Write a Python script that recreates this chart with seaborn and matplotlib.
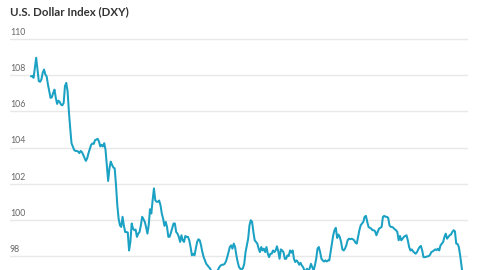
import matplotlib
matplotlib.use("Agg")
import matplotlib.pyplot as plt
import matplotlib.transforms as mtransforms
import seaborn as sns
import pandas as pd
import numpy as np

title = "U.S. Dollar Index (DXY)"
y_ticks = [98, 100, 102, 104, 106, 108, 110]

# Daily closing values (left to right)
seg_jan_mar = [107.93, 107.96, 107.85, 108.41, 108.96, 108.31, 107.67, 107.63, 107.76, 108.13,
               108.31, 108.04, 107.93, 107.48, 107.11, 106.74, 106.78, 107.02, 107.20, 106.74,
               106.41, 106.59, 106.52, 106.37, 106.33, 106.46, 107.39, 107.57, 107.11, 106.00,
               105.07, 104.24, 104.06, 103.87, 103.81, 103.81, 103.78, 103.69, 103.81, 103.74,
               103.59, 103.41, 103.26, 103.41, 103.69, 103.93, 104.15, 104.22, 104.20, 104.41,
               104.44]
seg_mar_may = [104.48, 104.33, 104.06, 104.15, 104.06, 104.24, 103.87, 103.04, 102.15, 102.85,
               103.22, 103.04, 102.89, 102.85, 101.93, 100.81, 100.07, 99.70, 99.61, 100.17,
               99.70, 99.33, 99.33, 99.30, 98.31, 98.78, 99.80, 99.52, 99.43, 99.46,
               99.06, 99.24, 99.33, 99.70, 100.17, 100.04, 99.89, 99.61, 99.24, 99.70,
               100.59, 100.35, 101.09, 101.74, 101.09, 101.00, 101.00, 101.07, 100.81, 100.35,
               100.07, 99.67, 99.89, 99.61, 99.06, 99.07, 99.30, 99.56, 99.80]
seg_may_aug = [99.80, 99.33, 99.24, 99.06, 98.78, 99.15, 98.87, 98.78, 99.11, 99.06,
               99.06, 98.87, 98.50, 98.04, 98.13, 98.04, 98.41, 98.78, 98.93, 98.87,
               98.59, 98.22, 97.94, 97.76, 97.57, 97.48, 97.39, 97.30, 97.15, 97.00,
               96.90, 96.95, 97.10, 97.25, 97.39, 97.48, 97.52, 97.52, 97.57, 97.70,
               97.94, 98.22, 98.50, 98.59, 98.41, 98.69, 98.50, 98.04, 97.67, 97.39,
               97.30, 97.26, 97.33, 97.57, 98.22, 98.59, 98.96, 99.70]
seg_aug_oct = [99.98, 99.89, 99.33, 98.87, 98.78, 98.69, 98.41, 98.22, 98.50, 98.31,
               98.41, 98.22, 98.50, 98.13, 97.94, 98.13, 98.13, 98.31, 98.22, 98.31,
               98.54, 98.26, 97.85, 98.37, 98.31, 98.22, 97.85, 97.85, 98.04, 98.00,
               98.31, 98.19, 98.31, 97.85, 97.67, 97.76, 97.67, 97.52, 97.63, 97.48,
               97.39, 97.20, 97.20, 97.30, 97.11, 97.33, 97.57, 97.39, 97.20, 97.48,
               97.85, 98.41, 98.50, 98.22, 97.85, 97.76, 97.70]
seg_oct_dec = [97.76, 97.70, 97.76, 97.76, 98.22, 98.69, 99.15, 99.43, 99.56, 99.00,
               99.19, 99.06, 98.78, 98.37, 98.31, 98.41, 98.59, 98.87, 98.96, 98.93,
               98.96, 98.93, 98.87, 98.74, 98.69, 99.06, 99.43, 99.70, 99.80, 99.89,
               100.17, 100.22, 99.89, 99.61, 99.56, 99.52, 99.43, 99.43, 99.37, 99.15,
               99.33, 99.52, 99.56, 99.61, 100.17, 100.22, 100.17, 100.17, 100.11, 99.70,
               99.61, 99.61, 99.56, 99.48, 99.43, 99.33, 98.87]
seg_dec_jan = [99.11, 98.87, 98.96, 99.06, 99.11, 99.15, 98.87, 98.50, 98.31, 98.37,
               98.26, 98.19, 98.13, 98.22, 98.37, 98.50, 98.56, 98.31, 97.94, 97.94,
               97.96, 97.98, 98.00, 98.07, 98.22, 98.26, 98.31, 98.37, 98.33, 98.41,
               98.31, 98.59, 98.69, 98.78, 99.06, 99.24, 98.96, 99.06, 99.15, 99.19,
               99.33, 99.43, 99.37, 98.69, 98.67, 98.50, 98.04, 97.48, 96.93, 96.60]

values = (seg_jan_mar + seg_mar_may + seg_may_aug + seg_aug_oct + seg_oct_dec + seg_dec_jan)
df = pd.DataFrame({"day": np.arange(len(values)), "dxy": values})

sns.set_theme(style="white")
plt.rcParams["font.family"] = ["Lato", "DejaVu Sans"]

fig = plt.figure(figsize=(4.8, 2.7), dpi=100)
ax = fig.add_axes([10 / 480, 0.0, 458 / 480, 1 - 25 / 270])

sns.lineplot(data=df, x="day", y="dxy", ax=ax, color="#1aa1c3", linewidth=1.45)

n = len(values)
ax.set_xlim(-16, n - 1 + 3)
ax.set_ylim(97.23, 110.77)

for s in ax.spines.values():
    s.set_visible(False)
ax.set_xticks([])
ax.set_yticks([])
ax.set_xlabel("")
ax.set_ylabel("")

trans = mtransforms.blended_transform_factory(ax.transAxes, ax.transData)
for t in y_ticks:
    ax.axhline(t, color="#e8e8e8", linewidth=1.0, zorder=0)
    ax.text(0.0, t + 0.12, str(t), transform=trans, ha="left", va="bottom",
            fontsize=6.3, color="#666666")

fig.text(10 / 480, 1 - 12 / 270, title, ha="left", va="center",
         fontsize=8.3, fontweight="bold", color="#333333")

fig.savefig("out.png", dpi=100)
